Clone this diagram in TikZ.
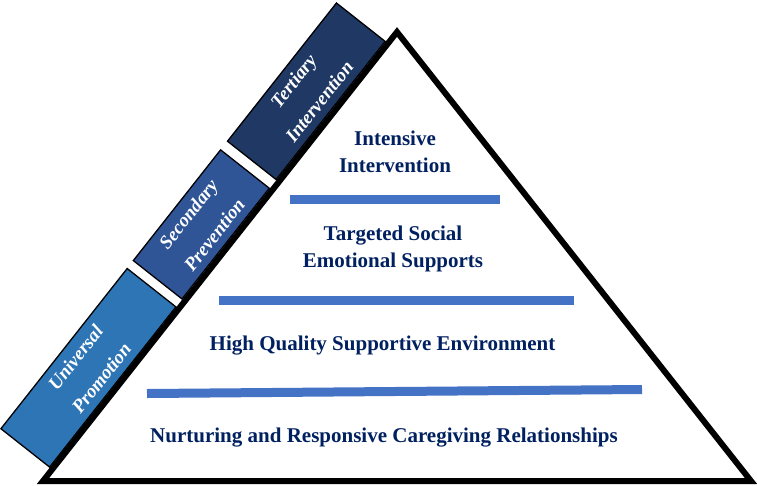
\documentclass[tikz,border=0pt]{standalone}
\usepackage{fontspec}
\setmainfont{Liberation Serif}
\definecolor{navytxt}{RGB}{0,32,96}
\definecolor{barblue}{RGB}{68,114,196}
\definecolor{unifill}{RGB}{46,117,182}
\definecolor{secfill}{RGB}{47,85,151}
\definecolor{terfill}{RGB}{31,56,100}
\tikzset{
  tier/.style={draw=black, line width=1.3pt, text=white, align=center,
    rotate=51.75, minimum height=62pt, inner sep=0pt,
    font=\fontsize{19}{33}\selectfont\bfseries\itshape},
  level/.style={text=navytxt, align=center, inner sep=0pt,
    font=\fontsize{21}{27}\selectfont\bfseries},
  bar/.style={draw=barblue, line width=9pt, line cap=butt}
}
\begin{document}
\begin{tikzpicture}[x=1pt,y=-1pt]
\useasboundingbox (0,0) rectangle (757,485);
% side tiers
\node[tier, fill=unifill, minimum width=204pt] (uni) at (88.4,367.8) {Universal\\Promotion};
\node[tier, fill=secfill, minimum width=141pt] (sec) at (201.3,224.4) {Secondary\\Prevention};
\node[tier, fill=terfill, minimum width=176pt] (ter) at (306.3,91.3) {Tertiary\\Intervention};
% pyramid
\coordinate (bl) at (43,481);
\coordinate (apex) at (397,32);
\coordinate (br) at (751,481);
\draw[line width=6pt, line join=miter] (bl) -- (apex) -- (br) -- cycle;
% separator bars
\coordinate (b1l) at (290,199.5); \coordinate (b1r) at (500,199.5);
\coordinate (b2l) at (219,300.5); \coordinate (b2r) at (574,300.5);
\coordinate (b3l) at (147,393.5); \coordinate (b3r) at (642,389.5);
\draw[bar] (b1l) -- (b1r);
\draw[bar] (b2l) -- (b2r);
\draw[bar] (b3l) -- (b3r);
% level labels
\node[level] (l4) at (395,151.5) {Intensive\\Intervention};
\node[level] (l3) at (393,248.7) {Targeted Social\\Emotional Supports};
\node[level, anchor=base] (l2) at (382.5,350) {High Quality Supportive Environment};
\node[level, anchor=base] (l1) at (384,442) {Nurturing and Responsive Caregiving Relationships};
\end{tikzpicture}
\end{document}
